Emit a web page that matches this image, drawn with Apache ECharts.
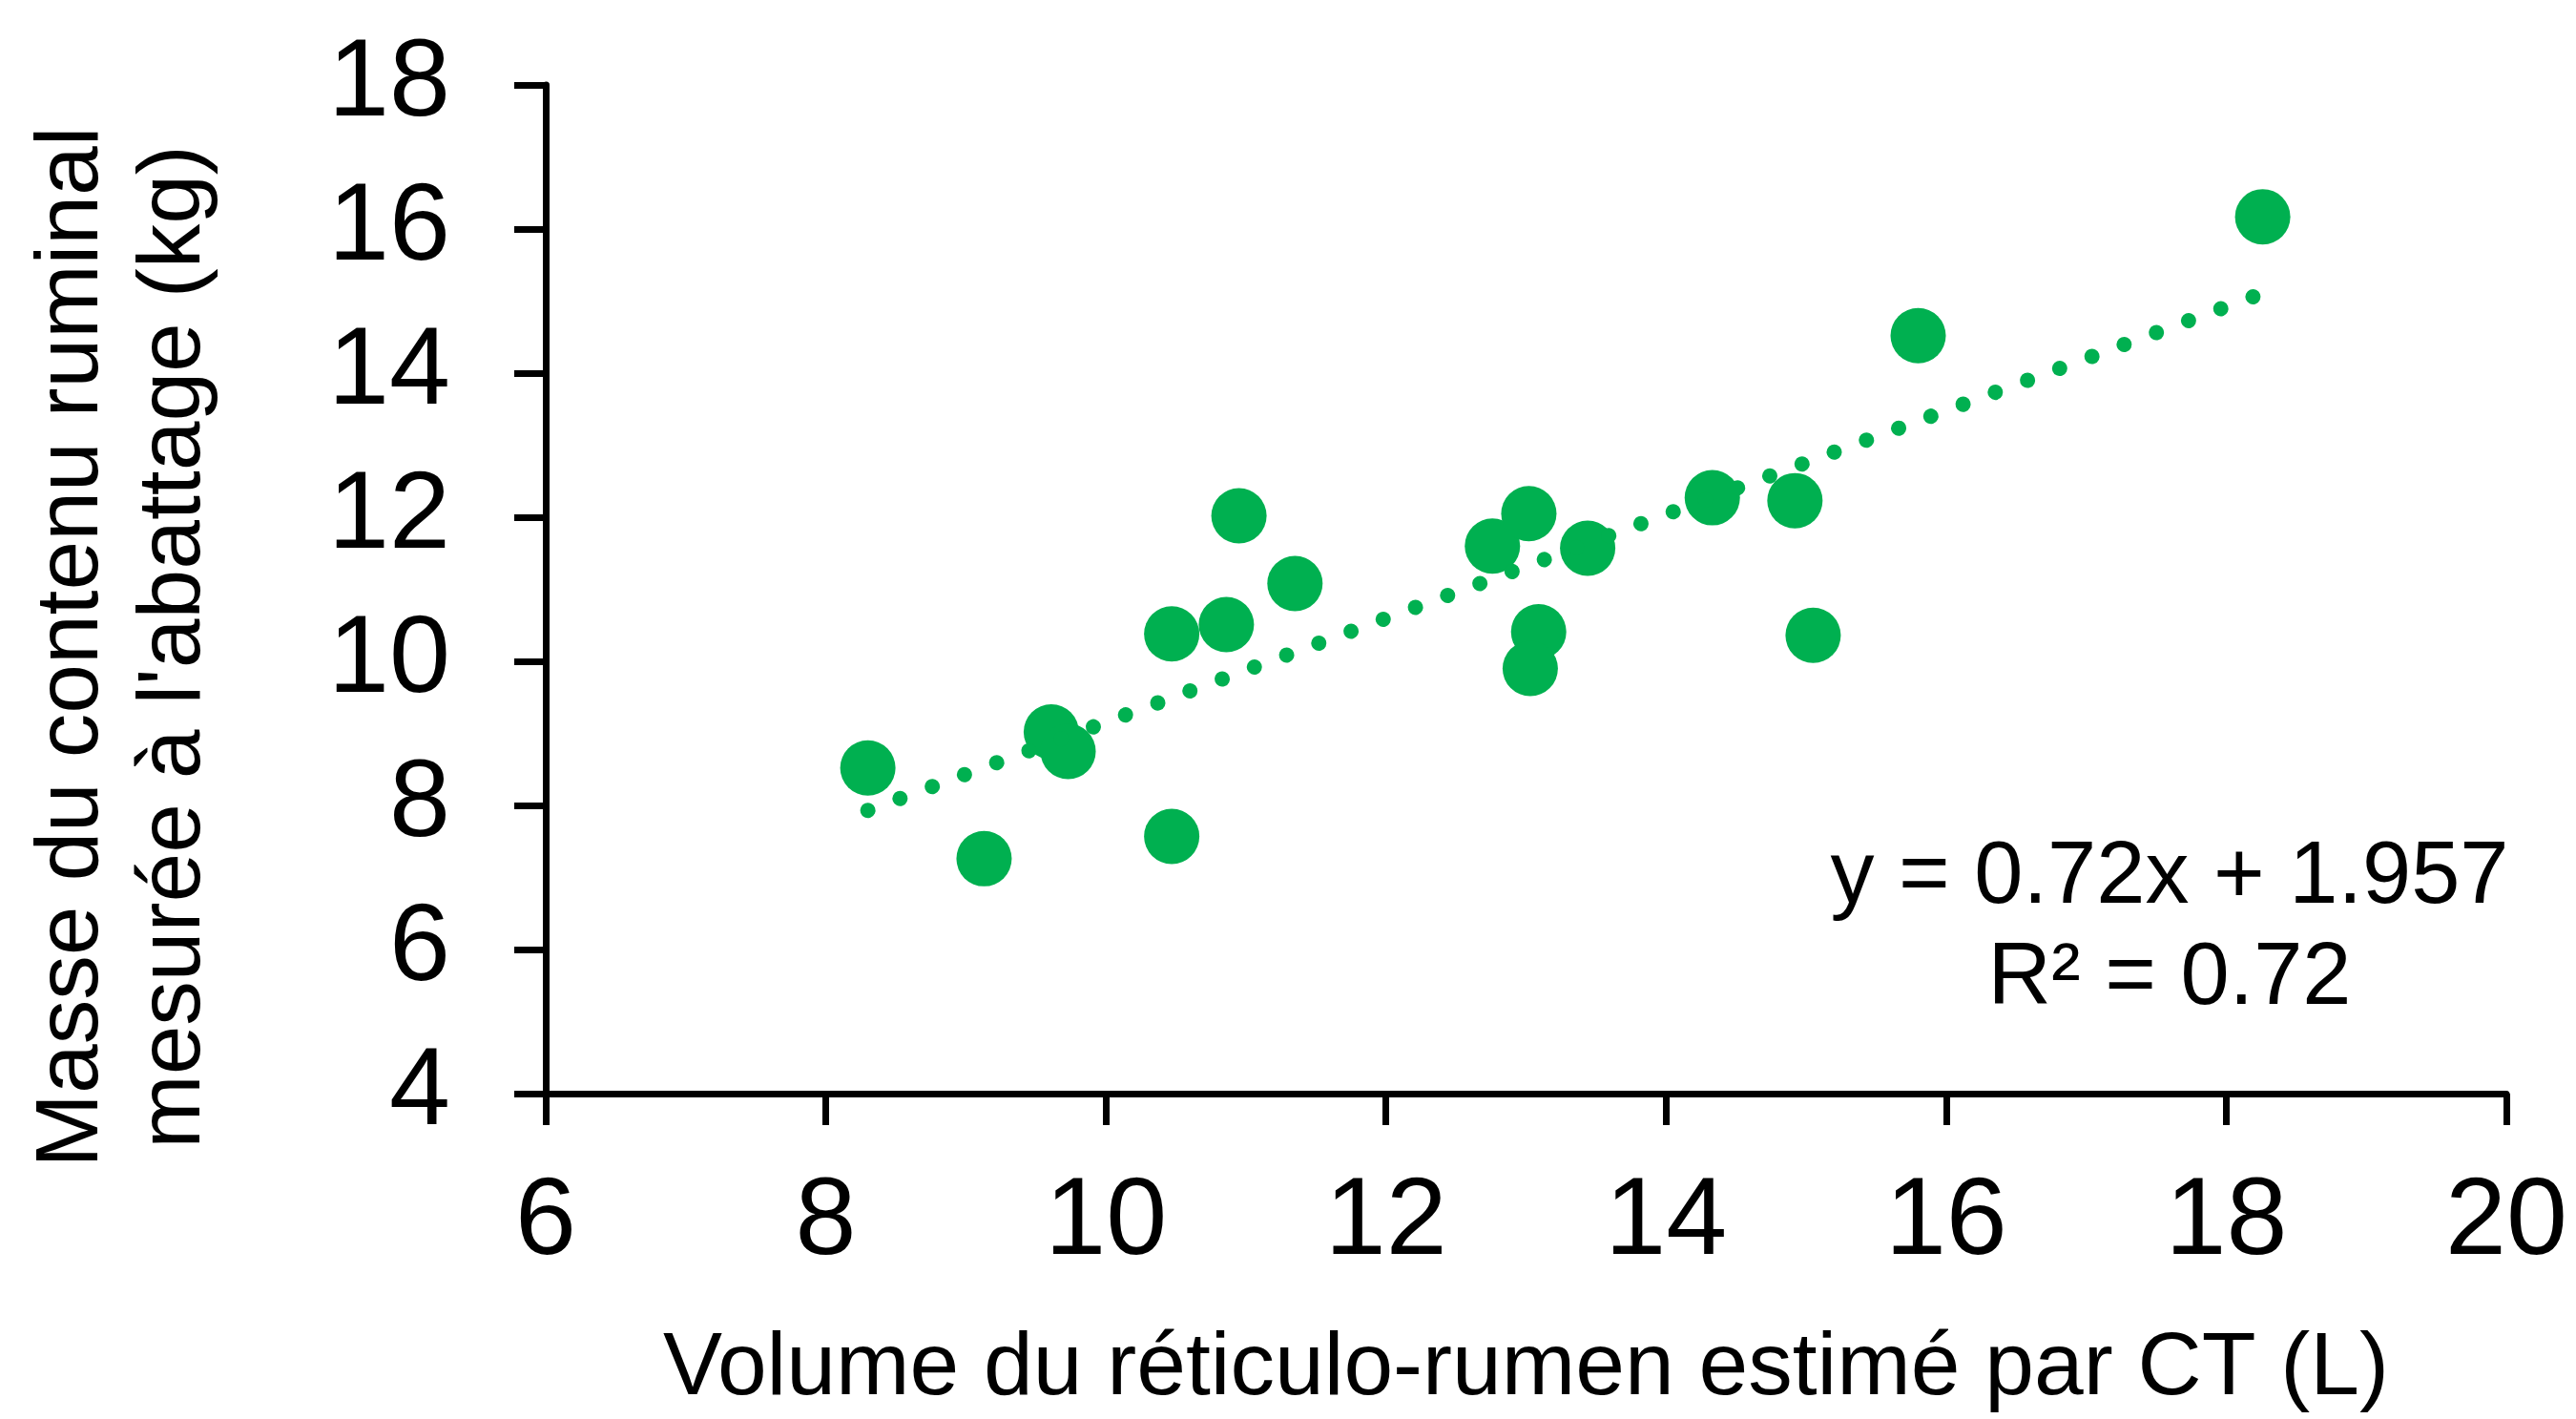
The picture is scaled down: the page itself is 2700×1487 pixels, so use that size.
<!DOCTYPE html>
<html>
<head>
<meta charset="utf-8">
<script src="https://cdn.jsdelivr.net/npm/echarts@6/dist/echarts.min.js"></script>
<style>
html,body{margin:0;padding:0;background:#fff;}
#chart{width:2700px;height:1487px;}
</style>
</head>
<body>
<div id="chart"></div>
<script>
// Data
var volumeCT = [8.30, 9.13, 9.61, 9.73, 10.47, 10.47, 10.86, 10.95, 11.35, 12.76, 13.02, 13.09, 13.03, 13.44, 14.33, 14.92, 15.05, 15.80, 18.26];
var masseRuminal = [8.52, 7.26, 9.02, 8.75, 10.38, 7.57, 10.51, 12.02, 11.08, 11.60, 12.05, 10.41, 9.90, 11.57, 12.27, 12.23, 10.36, 14.52, 16.17];
var trendX = [8.30, 18.26];
var trendY = [7.93, 15.11];
var xTicks = [6, 8, 10, 12, 14, 16, 18, 20];
var yTicks = [4, 6, 8, 10, 12, 14, 16, 18];
var equationLines = ['y = 0.72x + 1.957', 'R² = 0.72'];
var xTitle = 'Volume du réticulo-rumen estimé par CT (L)';
var yTitleLines = ['Masse du contenu ruminal', 'mesurée à l\'abattage (kg)'];

var FONT = '"Liberation Sans", Arial, Helvetica, sans-serif';
var GREEN = '#00B050';

var scatterData = volumeCT.map(function (v, i) { return [v, masseRuminal[i]]; });
var trendData = trendX.map(function (v, i) { return [v, trendY[i]]; });

var chart = echarts.init(document.getElementById('chart'), null, {renderer: 'canvas'});
chart.setOption({
  backgroundColor: '#ffffff',
  animation: false,
  grid: {left: 572, right: 73, top: 89, bottom: 340, containLabel: false},
  xAxis: {
    type: 'value',
    min: xTicks[0], max: xTicks[xTicks.length - 1], interval: 2,
    name: xTitle,
    nameLocation: 'middle',
    nameGap: 243,
    nameTextStyle: {fontFamily: FONT, fontSize: 93, lineHeight: 93, color: '#000'},
    axisLine: {show: true, onZero: false, lineStyle: {color: '#000', width: 7}},
    axisTick: {show: true, inside: false, length: 33, lineStyle: {color: '#000', width: 7}},
    axisLabel: {fontFamily: FONT, fontSize: 115, lineHeight: 115, color: '#000', margin: 79},
    splitLine: {show: false}
  },
  yAxis: {
    type: 'value',
    min: yTicks[0], max: yTicks[yTicks.length - 1], interval: 2,
    axisLine: {show: true, onZero: false, lineStyle: {color: '#000', width: 7}},
    axisTick: {show: true, inside: false, length: 33, lineStyle: {color: '#000', width: 7}},
    axisLabel: {fontFamily: FONT, fontSize: 115, color: '#000', margin: 100},
    splitLine: {show: false}
  },
  graphic: [
    {
      type: 'text',
      x: 130, y: 678,
      rotation: Math.PI / 2,
      style: {
        text: yTitleLines.join('\n'),
        fontFamily: FONT, fontSize: 93, lineHeight: 107,
        fill: '#000', align: 'center', verticalAlign: 'middle'
      }
    },
    {
      type: 'text',
      x: 2274, y: 974,
      style: {
        text: equationLines.join('\n'),
        fontFamily: FONT, fontSize: 92, lineHeight: 106,
        fill: '#000', align: 'center', verticalAlign: 'middle'
      }
    }
  ],
  series: [
    {
      type: 'scatter',
      data: scatterData,
      symbol: 'circle',
      symbolSize: 58,
      itemStyle: {color: GREEN, opacity: 1},
      z: 2
    },
    {
      type: 'line',
      data: trendData,
      showSymbol: false,
      symbol: 'none',
      lineStyle: {color: GREEN, width: 16, type: [0.01, 36], cap: 'round'},
      z: 3
    }
  ]
});
</script>
</body>
</html>
